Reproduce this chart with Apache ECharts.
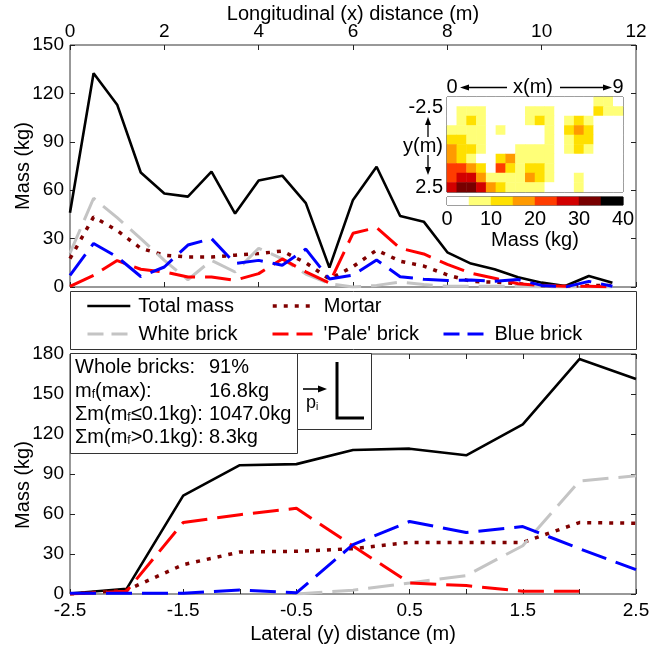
<!DOCTYPE html>
<html><head><meta charset="utf-8">
<script src="https://cdn.jsdelivr.net/npm/echarts@6/dist/echarts.min.js"></script>
<style>html,body{margin:0;padding:0;background:#fff}#c{width:651px;height:650px}</style>
</head><body><div id="c"></div>
<script>
// ---------- data ----------
const xLong = [0,0.5,1,1.5,2,2.5,3,3.5,4,4.5,5,5.5,6,6.5,7,7.5,8,8.5,9,9.5,10,10.5,11,11.5];
const topTotal  = [46,132.5,113,71,58,56,71.5,45.5,66,69,52,12,54,74.5,44,40.5,21.5,14.5,11,6,2.7,0.6,6.8,2.7];
const topMortar = [17.6,43.4,35,24,19.7,18.6,18.6,19.7,20.7,22.3,15,5,12.6,22.9,16,13,7.5,3.5,3,2,1,0.5,1,1];
const topWhite  = [21,55,43,30,16.5,4.5,16.5,9.3,24,17.5,8,2,0,1,3,1.5,0.5,0.5,0.5,0.5,0,0,0,0];
const topPale   = [0.4,7.2,16.4,11,9.3,6.2,6.2,4.2,8.3,17.4,9.4,2.5,33.3,36.8,24,20.5,14,8.5,5.4,2,1,0.5,0.5,0];
const topBlue   = [7.2,27,18.6,6.5,12.4,26,30,14.5,16.5,13.5,23.5,5,7.4,16.7,6.4,4.8,4,4.3,3.5,4.6,1,0,3.5,0.5];

const yLat = [-2.5,-2,-1.5,-1,-0.5,0,0.5,1,1.5,2,2.5];
const botTotal  = [0.4,3.9,73.8,96.6,97.4,108,109,104,127.2,176.2,161.3];
const botMortar = [0,2.9,22,31.5,32,34,38.7,38.7,38.7,53.6,53.1];
const botWhite  = [null,null,null,null,0,2.9,8.3,13.8,36.2,84.7,88.7];
const botPale   = [0,2.1,53.6,59.5,64.3,36,8.3,6.3,2.1,2.1,null];
const botBlue   = [0.5,0.5,0.5,3,0.9,37,54.4,46.1,50.6,34,18.3];

// inset contour map (mass kg), rows y = -2.5..2.5 (0.5 m cells), cols x = 0..9 m (0.5 m cells)
const insetX = ['0.25','0.75','1.25','1.75','2.25','2.75','3.25','3.75','4.25','4.75','5.25','5.75','6.25','6.75','7.25','7.75','8.25','8.75'];
const insetY = ['-2.25','-1.75','-1.25','-0.75','-0.25','0.25','0.75','1.25','1.75','2.25'];
const insetMass = [
  [0,0,0,0,0,0,0,0,0,0,0,0,0,0,0,7,7,0],
  [0,7,7,7,0,0,0,0,7,7,7,0,0,0,0,12,7,7],
  [0,7,12,7,0,0,0,0,7,12,7,0,7,12,7,0,0,0],
  [7,7,7,7,0,7,0,0,0,0,7,0,12,17,12,0,0,0],
  [12,12,7,7,0,0,0,0,0,0,7,0,7,12,12,0,0,0],
  [17,12,12,7,0,0,0,7,7,7,7,0,7,12,7,0,0,0],
  [17,12,7,0,0,12,17,7,7,7,7,0,0,0,0,0,0,0],
  [22,22,17,12,0,22,12,7,12,12,7,0,0,0,0,0,0,0],
  [22,27,27,17,7,7,7,7,17,12,7,0,0,7,0,0,0,0],
  [27,32,32,27,17,12,7,7,7,7,0,0,0,7,0,0,0,0]
];
const levelMids = [2.5,7.5,12.5,17.5,22.5,27.5,32.5,37.5];
const levelColors = ['#ffffff','#ffff78','#ffe000','#ff9a00','#ff3c00','#d20000','#780000','#000000'];

const F = '"Liberation Sans", Arial, sans-serif';

// ---------- build ----------
const defs = [
  {name:'Total mass', top:topTotal, bot:botTotal, color:'#000000', type:'solid', width:2.6},
  {name:'Mortar', top:topMortar, bot:botMortar, color:'#800000', type:[4,7], width:3.5},
  {name:'White brick', top:topWhite, bot:botWhite, color:'#c4c4c4', type:[26,10], width:3},
  {name:"'Pale' brick", top:topPale, bot:botPale, color:'#ff0000', type:[26,10], width:3},
  {name:'Blue brick', top:topBlue, bot:botBlue, color:'#0000ff', type:[26,10], width:3}
];
const series = [];
defs.forEach(d => series.push({
  type:'line', name:d.name, xAxisIndex:0, yAxisIndex:0, symbol:'none', animation:false,
  data: xLong.map((x,i)=>[x,d.top[i]]), itemStyle:{color:d.color},
  lineStyle:{color:d.color, width:d.width, type:d.type}, connectNulls:false
}));
defs.forEach(d => series.push({
  type:'line', name:d.name, xAxisIndex:2, yAxisIndex:2, symbol:'none', animation:false,
  data: yLat.map((x,i)=>[x,d.bot[i]]), itemStyle:{color:d.color},
  lineStyle:{color:d.color, width:d.width, type:d.type}, connectNulls:false
}));
const insetData = [];
insetMass.forEach((row,r)=>row.forEach((v,c)=>insetData.push([c,r,v])));
series.push({type:'heatmap', name:'inset', xAxisIndex:4, yAxisIndex:4, data:insetData, animation:false, emphasis:{disabled:true}});
series.push({type:'heatmap', name:'bar', xAxisIndex:5, yAxisIndex:5, data:levelMids.map((v,i)=>[i,0,v]), animation:false, emphasis:{disabled:true}});

const pieces = levelColors.map((c,i)=>({gte:i*5, lt:(i+1)*5, color:c}));

const tickOnly = (gi, extra) => Object.assign({
  gridIndex:gi, type:'value', axisLabel:{show:false}, axisLine:{show:false, onZero:false},
  axisTick:{show:true, inside:true, length:5, lineStyle:{color:'#222'}}, splitLine:{show:false}
}, extra);
const lbl = {fontSize:19, fontFamily:F, color:'#000'};
const nameSt = {fontSize:20, fontFamily:F, color:'#000'};

const legends = [
  ['Total mass', 86, 296, 'solid', '#000', 2.6],
  ['Mortar', 271, 296, [4,7], '#800000', 3.5],
  ['White brick', 86, 324, [16,8], '#c4c4c4', 3],
  ["'Pale' brick", 271, 324, [16,8], '#ff0000', 3],
  ['Blue brick', 442, 324, [16,8], '#0000ff', 3]
].map(l => ({
  data:[l[0]], left:l[1], top:l[2], padding:0, itemWidth:43, itemHeight:20, selectedMode:false,
  textStyle:{fontSize:20, fontFamily:F, color:'#000', padding:[0,0,0,3]},
  lineStyle:{type:l[3], color:l[4], width:l[5]},
  itemStyle:{color:'rgba(0,0,0,0)', borderColor:'rgba(0,0,0,0)', borderWidth:0, opacity:0}
}));

const tSt = (t, extra) => Object.assign({text:t, fontSize:20, fontFamily:F, fill:'#000', align:'left', verticalAlign:'middle'}, extra||{});
const richSub = {a:{fontSize:20, fontFamily:F, fill:'#000'}, b:{fontSize:12, fontFamily:F, fill:'#000', verticalAlign:'bottom', padding:[6,0,0,0]}};

const graphic = [
  {type:'rect', z:1, shape:{x:70.5, y:291.5, width:566, height:58}, style:{fill:'#fff', stroke:'#333', lineWidth:1}},
  // annotation boxes
  {type:'rect', z:50, shape:{x:70.5, y:353.5, width:227, height:100}, style:{fill:'#fff', stroke:'#333', lineWidth:1}},
  {type:'rect', z:50, shape:{x:297.5, y:353.5, width:74, height:76}, style:{fill:'#fff', stroke:'#333', lineWidth:1}},
  {type:'text', z:51, x:75, y:367, style:tSt('Whole bricks:')},
  {type:'text', z:51, x:209, y:367, style:tSt('91%')},
  {type:'text', z:51, x:75, y:391, style:tSt('{a|m}{b|f}{a|(max):}', {rich:richSub})},
  {type:'text', z:51, x:209, y:391, style:tSt('16.8kg')},
  {type:'text', z:51, x:75, y:414, style:tSt('{a|Σm(m}{b|f}{a|≤0.1kg):}', {rich:richSub})},
  {type:'text', z:51, x:209, y:414, style:tSt('1047.0kg')},
  {type:'text', z:51, x:75, y:437, style:tSt('{a|Σm(m}{b|f}{a|>0.1kg):}', {rich:richSub})},
  {type:'text', z:51, x:209, y:437, style:tSt('8.3kg')},
  {type:'line', z:51, shape:{x1:303, y1:389, x2:321, y2:389}, style:{stroke:'#000', lineWidth:1.6}},
  {type:'polygon', z:51, shape:{points:[[327,389],[318,385.5],[318,392.5]]}, style:{fill:'#000'}},
  {type:'text', z:51, x:306, y:403, style:tSt('{a|p}{b|i}', {rich:{a:{fontSize:18,fontFamily:F,fill:'#000'}, b:{fontSize:10,fontFamily:F,fill:'#000',verticalAlign:'bottom',padding:[5,0,0,0]}}})},
  {type:'polyline', z:51, shape:{points:[[337,362],[337,418],[364,418]]}, style:{stroke:'#000', lineWidth:3, fill:null}},
  // inset labels
  {type:'text', z:20, x:452, y:87, style:tSt('0', {align:'center'})},
  {type:'text', z:20, x:618, y:87, style:tSt('9', {align:'center'})},
  {type:'text', z:20, x:533, y:87, style:tSt('x(m)', {align:'center'})},
  {type:'line', z:20, shape:{x1:466, y1:87.5, x2:507, y2:87.5}, style:{stroke:'#000', lineWidth:1.3}},
  {type:'polygon', z:20, shape:{points:[[460,87.5],[469,84.5],[469,90.5]]}, style:{fill:'#000'}},
  {type:'line', z:20, shape:{x1:560, y1:87.5, x2:606, y2:87.5}, style:{stroke:'#000', lineWidth:1.3}},
  {type:'polygon', z:20, shape:{points:[[612,87.5],[603,84.5],[603,90.5]]}, style:{fill:'#000'}},
  {type:'text', z:20, x:443, y:107, style:tSt('-2.5', {align:'right'})},
  {type:'text', z:20, x:443, y:146, style:tSt('y(m)', {align:'right'})},
  {type:'text', z:20, x:443, y:187, style:tSt('2.5', {align:'right'})},
  {type:'line', z:20, shape:{x1:428, y1:123, x2:428, y2:137}, style:{stroke:'#000', lineWidth:1.3}},
  {type:'polygon', z:20, shape:{points:[[428,117],[425,125],[431,125]]}, style:{fill:'#000'}},
  {type:'line', z:20, shape:{x1:428, y1:155, x2:428, y2:169}, style:{stroke:'#000', lineWidth:1.3}},
  {type:'polygon', z:20, shape:{points:[[428,175],[425,167],[431,167]]}, style:{fill:'#000'}}
];

const option = {
  backgroundColor:'#fff',
  animation:false,
  grid:[
    {left:70, top:45, width:566, height:242, show:true, borderColor:'#333', borderWidth:1, backgroundColor:'transparent', outerBoundsMode:'none'},
    {left:70, top:354, width:566, height:240, show:true, borderColor:'#333', borderWidth:1, backgroundColor:'transparent', outerBoundsMode:'none'},
    {left:447, top:97, width:176, height:95, show:true, borderColor:'#000', borderWidth:1, backgroundColor:'transparent', outerBoundsMode:'none'},
    {left:447, top:197, width:176, height:8, show:true, borderColor:'#000', borderWidth:1, backgroundColor:'transparent', outerBoundsMode:'none'}
  ],
  xAxis:[
    {gridIndex:0, type:'value', min:0, max:12, interval:2, position:'top',
     axisLine:{show:false, onZero:false}, axisTick:{inside:true, length:5, lineStyle:{color:'#222'}}, splitLine:{show:false},
     axisLabel:Object.assign({margin:4}, lbl),
     name:'Longitudinal (x) distance (m)', nameLocation:'middle', nameGap:21, nameMoveOverlap:false, nameTextStyle:nameSt},
    tickOnly(0, {min:0, max:12, interval:2, position:'bottom'}),
    {gridIndex:1, type:'value', min:-2.5, max:2.5, interval:0.5, position:'bottom',
     axisLine:{show:false, onZero:false}, axisTick:{inside:true, length:5, lineStyle:{color:'#222'}}, splitLine:{show:false},
     axisLabel:Object.assign({margin:7, formatter:v => (Math.abs(((v+2.5)%1))<1e-6 ? String(v) : '')}, lbl),
     name:'Lateral (y) distance (m)', nameLocation:'middle', nameGap:30, nameMoveOverlap:false, nameTextStyle:nameSt},
    tickOnly(1, {min:-2.5, max:2.5, interval:0.5, position:'top'}),
    {gridIndex:2, type:'category', data:insetX, show:false},
    {gridIndex:3, type:'category', data:levelMids.map(String), show:false, position:'top'},
    {gridIndex:3, type:'value', min:0, max:40, interval:10, position:'bottom',
     axisLine:{show:false, onZero:false}, axisTick:{show:false}, splitLine:{show:false},
     axisLabel:Object.assign({margin:4}, {fontSize:20, fontFamily:F, color:'#000'}),
     name:'Mass (kg)', nameLocation:'middle', nameGap:25, nameMoveOverlap:false, nameTextStyle:nameSt}
  ],
  yAxis:[
    {gridIndex:0, type:'value', min:0, max:150, interval:30,
     axisLine:{show:false, onZero:false}, axisTick:{inside:true, length:5, lineStyle:{color:'#222'}}, splitLine:{show:false},
     axisLabel:Object.assign({margin:6}, lbl),
     name:'Mass (kg)', nameLocation:'middle', nameGap:37, nameMoveOverlap:false, nameTextStyle:nameSt},
    tickOnly(0, {min:0, max:150, interval:30, position:'right'}),
    {gridIndex:1, type:'value', min:0, max:180, interval:30,
     axisLine:{show:false, onZero:false}, axisTick:{inside:true, length:5, lineStyle:{color:'#222'}}, splitLine:{show:false},
     axisLabel:Object.assign({margin:6}, lbl),
     name:'Mass (kg)', nameLocation:'middle', nameGap:37, nameMoveOverlap:false, nameTextStyle:Object.assign({padding:[0,22,0,0]}, nameSt)},
    tickOnly(1, {min:0, max:180, interval:30, position:'right'}),
    {gridIndex:2, type:'category', data:insetY, inverse:true, show:false},
    {gridIndex:3, type:'category', data:['m'], show:false}
  ],
  visualMap:{type:'piecewise', show:false, seriesIndex:[10,11], dimension:2, pieces:pieces},
  legend:legends,
  graphic:graphic,
  series:series
};
const chart = echarts.init(document.getElementById('c'), null, {renderer:'canvas'});
chart.setOption(option);
</script>
</body></html>
